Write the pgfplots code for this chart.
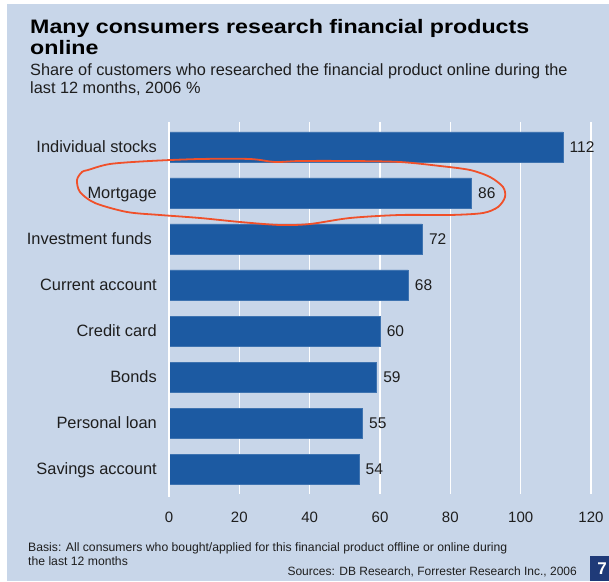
\documentclass[border=0pt]{standalone}
\usepackage{fontspec}
\setmainfont{Liberation Sans}
\newfontfamily\titlefont[FakeStretch=1.19]{Liberation Sans}
\usepackage{pgfplots}
\pgfplotsset{compat=1.18}
\definecolor{panel}{HTML}{C8D6E9}
\definecolor{barblue}{HTML}{1C5AA2}
\definecolor{marker}{HTML}{F0502A}
\definecolor{pagebox}{HTML}{1F3A78}
\definecolor{ink}{HTML}{1E1E1E}

\begin{document}
\begin{tikzpicture}[x=1pt,y=1pt]
\clip (0,0) rectangle (609,581);
\fill[white] (0,0) rectangle (609,581);
\fill[panel] (7,0) rectangle (609,577);

% title and subtitle
\node[anchor=base west, inner sep=0pt, text=black, font=\titlefont\bfseries\fontsize{19.5}{22}\selectfont] at (30,547.7) {Many consumers research financial products};
\node[anchor=base west, inner sep=0pt, text=black, font=\titlefont\bfseries\fontsize{19.5}{22}\selectfont] at (30,526) {online};
\node[anchor=base west, inner sep=0pt, text=ink, font=\fontsize{16.3}{19}\selectfont] at (30,505) {Share of customers who researched the financial product online during the};
\node[anchor=base west, inner sep=0pt, text=ink, font=\fontsize{16.3}{19}\selectfont] at (30,487.7) {last 12 months, 2006 \%};

\begin{axis}[
  at={(169pt,87pt)}, anchor=south west,
  scale only axis, width=422pt, height=372pt,
  xbar, bar width=30pt,
  xmin=0, xmax=120, ymin=-0.543, ymax=7.543,
  axis line style={draw=none},
  major tick length=0pt,
  xtick={0,20,...,120},
  xmajorgrids, grid style={white, line width=1.2pt},
  ytick={0,...,7},
  yticklabels={Savings account, Personal loan, Bonds, Credit card, Current account, Investment funds\kern5pt, Mortgage, Individual stocks},
  yticklabel style={anchor=base east, xshift=-12pt, yshift=-5.7pt, inner sep=0pt, text=ink, font=\fontsize{16.4}{19}\selectfont},
  xticklabel style={anchor=base, yshift=-28pt, inner sep=0pt, text=ink, font=\fontsize{15}{18}\selectfont},
  /pgf/number format/assume math mode=true,
  nodes near coords,
  nodes near coords style={anchor=west, inner sep=0pt, xshift=6.5pt, text=ink, font=\fontsize{15.5}{18}\selectfont},
  clip=false,
]
\addplot[fill=barblue, draw=barblue!85!white, line width=0.6pt] table[x=val, y=idx] {
idx val
0 54
1 55
2 59
3 60
4 68
5 72
6 86
7 112
};
\draw[white, line width=2.5pt] (axis cs:0,-0.6) -- (axis cs:0,7.543);
\end{axis}

% hand-drawn highlight around the mortgage bar
\draw[marker, line width=1.8pt] plot[smooth cycle, tension=0.5] coordinates {
(88,411) (110,417) (150,420) (200,422) (250,422) (275,419) (300,420) (350,420)
(400,419) (440,415) (470,411) (490,404) (503,394) (505,384) (498,374) (483,368)
(450,366) (400,366) (350,363) (310,357) (280,356) (240,359) (200,363) (160,366)
(127,369) (95,378) (80,389) (77,401) (82,409)};

% footnotes
\node[anchor=base west, inner sep=0pt, text=ink, font=\fontsize{12.2}{14}\selectfont] at (28,30) {Basis: All consumers who bought/applied for this financial product offline or online during};
\node[anchor=base west, inner sep=0pt, text=ink, font=\fontsize{12.2}{14}\selectfont] at (28,15.5) {the last 12 months};
\node[anchor=base east, inner sep=0pt, text=ink, font=\fontsize{12}{14}\selectfont] at (577,6) {Sources: DB Research, Forrester Research Inc., 2006};

% page number box
\fill[pagebox] (590,0) rectangle (611,25);
\node[anchor=base, inner sep=0pt, text=white, font=\bfseries\fontsize{17}{20}\selectfont] at (602,7) {7};
\end{tikzpicture}
\end{document}
